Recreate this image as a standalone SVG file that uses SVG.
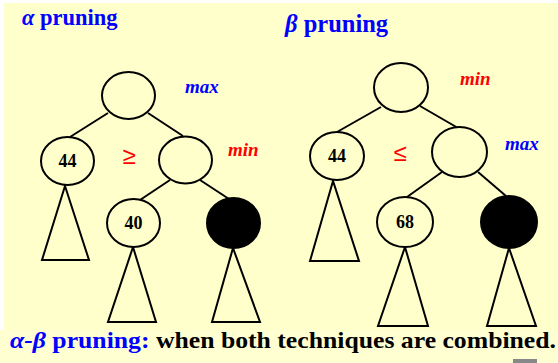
<svg xmlns="http://www.w3.org/2000/svg" width="558" height="363" viewBox="0 0 558 363">
<style>
.n{fill:#FFFFCC;stroke:#000;stroke-width:2}
.b{fill:#000;stroke:#000;stroke-width:2}
.t{fill:none;stroke:#000;stroke-width:2;stroke-linejoin:miter}
.e{stroke:#000;stroke-width:2}
.num{font-family:"Liberation Serif",serif;font-weight:bold;font-size:18px;text-anchor:middle;fill:#000}
.lab{font-family:"Liberation Serif",serif;font-weight:bold;font-style:italic;font-size:19px}
.ttl{font-family:"Liberation Serif",serif;font-weight:bold;fill:#0000FF}
.rel{font-family:"Liberation Sans",sans-serif;font-size:24px;fill:#FF0000;text-anchor:middle}
</style>
<rect x="0" y="0" width="558" height="363" fill="#FFFFFF"/>
<rect x="4" y="3" width="554" height="327" fill="#FFFFCC"/>
<rect x="0" y="330" width="558" height="33" fill="#FFFFD2"/>
<rect x="513" y="359" width="24" height="4" fill="#888888"/>

<text class="ttl" x="22" y="25" font-size="22.5"><tspan font-style="italic">α</tspan> pruning</text>
<text class="ttl" x="285" y="32" font-size="24.5"><tspan font-style="italic">β</tspan> pruning</text>

<g id="connectors">
<line class="e" x1="108" y1="113" x2="70" y2="137"/>
<line class="e" x1="148" y1="113" x2="183" y2="136"/>
<line class="e" x1="170" y1="180" x2="140" y2="200"/>
<line class="e" x1="200" y1="180" x2="229" y2="199"/>
<line class="e" x1="381" y1="107" x2="337" y2="132"/>
<line class="e" x1="420" y1="106" x2="458" y2="128"/>
<line class="e" x1="442" y1="172" x2="407" y2="197"/>
<line class="e" x1="478" y1="172" x2="506" y2="196"/>
</g>

<g id="tri-a1"><polygon class="t" points="65,186 42,260 89,260"/></g>
<g id="tri-a2"><polygon class="t" points="133,247 108,322 156,322"/></g>
<g id="tri-a3"><polygon class="t" points="233,248 212,322 260,322"/></g>
<g id="tri-b1"><polygon class="t" points="333,181 310,261 359,261"/></g>
<g id="tri-b2"><polygon class="t" points="405,247 378,326 428,326"/></g>
<g id="tri-b3"><polygon class="t" points="509,248 487,326 536,326"/></g>

<g id="a-root"><ellipse class="n" cx="128.5" cy="95.5" rx="26.5" ry="23.5"/></g>
<text class="lab" x="185" y="93" fill="#0000FF">max</text>
<g id="a-44"><ellipse class="n" cx="67.5" cy="161" rx="26.5" ry="24"/><text class="num" x="67.5" y="167">44</text></g>
<text class="rel" x="129" y="164">≥</text>
<g id="a-min"><ellipse class="n" cx="185.5" cy="160" rx="26.5" ry="23.5"/></g>
<text class="lab" x="228" y="156" fill="#FF0000">min</text>
<g id="a-40"><ellipse class="n" cx="133.5" cy="223" rx="26.5" ry="24"/><text class="num" x="133.5" y="229">40</text></g>
<g id="a-pruned"><ellipse class="b" cx="233.5" cy="223" rx="26.5" ry="25"/></g>

<g id="b-root"><ellipse class="n" cx="401" cy="87.5" rx="27" ry="24.5"/></g>
<text class="lab" x="460" y="85" fill="#FF0000">min</text>
<g id="b-44"><ellipse class="n" cx="337" cy="156" rx="27" ry="24"/><text class="num" x="337" y="162">44</text></g>
<text class="rel" x="400" y="161">≤</text>
<g id="b-max"><ellipse class="n" cx="459.5" cy="152" rx="27.5" ry="25"/></g>
<text class="lab" x="505" y="150" fill="#0000FF">max</text>
<g id="b-68"><ellipse class="n" cx="405" cy="222" rx="28" ry="25"/><text class="num" x="405" y="228">68</text></g>
<g id="b-pruned"><ellipse class="b" cx="509" cy="222" rx="28" ry="26"/></g>

<text x="10" y="348" font-family="Liberation Serif,serif" font-weight="bold" font-size="24" fill="#000" textLength="546" lengthAdjust="spacingAndGlyphs"><tspan fill="#0000FF"><tspan font-style="italic">α-β</tspan> pruning:</tspan> when both techniques are combined.</text>
</svg>
